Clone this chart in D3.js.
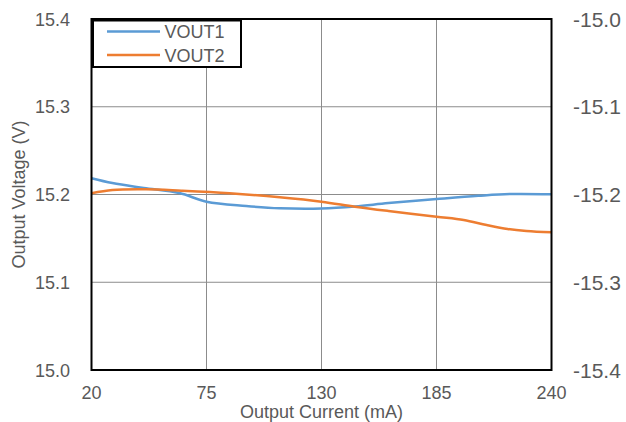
<html>
<head>
<meta charset="utf-8">
<style>
  body { margin: 0; background: #fff; }
  text { font-family: "Liberation Sans", Arial, sans-serif; fill: #595959; }
</style>
</head>
<body>
<script src="https://cdn.jsdelivr.net/npm/d3@7"></script>
<script>
// output current (mA) and voltages
var current1 = [20, 30, 45, 62, 75, 94, 110, 130, 146, 162, 185, 205, 220, 240];
var vout1    = [15.2185, 15.213, 15.2075, 15.2017, 15.1918, 15.1869, 15.1843, 15.184, 15.1863, 15.1902, 15.1948, 15.1985, 15.2005, 15.2002];
var current2 = [20, 30, 46, 63, 86, 110, 130, 146, 162, 185, 198, 209, 219, 228, 240];
var vout2    = [-15.1986, -15.1949, -15.1941, -15.1957, -15.1986, -15.2032, -15.2082, -15.2139, -15.2188, -15.2253, -15.229, -15.2348, -15.2393, -15.2416, -15.2431];
var xTicks  = [20, 75, 130, 185, 240];
var yTicks  = [15.0, 15.1, 15.2, 15.3, 15.4];
var y2Ticks = [-15.4, -15.3, -15.2, -15.1, -15.0];
var seriesNames = ["VOUT1", "VOUT2"];
var colors = ["#5B9BD5", "#ED7D31"];

var W = 626, H = 422;
var pLeft = 91.5, pRight = 551.5, pTop = 19, pBottom = 370;

var svg = d3.select("body").append("svg").attr("width", W).attr("height", H);

var x = d3.scaleLinear().domain([20, 240]).range([pLeft, pRight]);
var y = d3.scaleLinear().domain([15.0, 15.4]).range([pBottom, pTop]);
var y2 = d3.scaleLinear().domain([-15.4, -15.0]).range([pBottom, pTop]);

// gridlines
svg.append("g").selectAll("line").data(xTicks.slice(1, -1)).enter().append("line")
  .attr("x1", function(d) { return x(d); }).attr("x2", function(d) { return x(d); })
  .attr("y1", pTop).attr("y2", pBottom)
  .attr("stroke", "#8c8c8c").attr("stroke-width", 1);
svg.append("g").selectAll("line").data(yTicks.slice(1, -1)).enter().append("line")
  .attr("x1", pLeft).attr("x2", pRight)
  .attr("y1", function(d) { return y(d); }).attr("y2", function(d) { return y(d); })
  .attr("stroke", "#8c8c8c").attr("stroke-width", 1);

// lines (smoothed like the original)
var line1 = d3.line().x(function(d, i) { return x(current1[i]); }).y(function(d) { return y(d); }).curve(d3.curveCatmullRom.alpha(0.5));
var line2 = d3.line().x(function(d, i) { return x(current2[i]); }).y(function(d) { return y2(d); }).curve(d3.curveCatmullRom.alpha(0.5));
svg.append("path").attr("d", line1(vout1)).attr("fill", "none").attr("stroke", colors[0]).attr("stroke-width", 2.5);
svg.append("path").attr("d", line2(vout2)).attr("fill", "none").attr("stroke", colors[1]).attr("stroke-width", 2.5);

// plot border
svg.append("rect").attr("x", pLeft).attr("y", pTop).attr("width", pRight - pLeft).attr("height", pBottom - pTop)
  .attr("fill", "none").attr("stroke", "#000").attr("stroke-width", 2);

// tick labels
svg.append("g").selectAll("text").data(yTicks).enter().append("text")
  .attr("x", 70).attr("y", function(d) { return y(d) + 6.5; })
  .attr("text-anchor", "end").style("font-size", "18px")
  .text(function(d) { return d3.format(".1f")(d); });
svg.append("g").selectAll("text").data(y2Ticks).enter().append("text")
  .attr("x", 573).attr("y", function(d) { return y2(d) + 7.5; })
  .style("font-size", "21px")
  .text(function(d) { return d3.format(".1f")(d).replace("\u2212", "-"); });
svg.append("g").selectAll("text").data(xTicks).enter().append("text")
  .attr("x", function(d) { return x(d); }).attr("y", 399)
  .attr("text-anchor", "middle").style("font-size", "18px")
  .text(function(d) { return d; });

// axis titles
svg.append("text").attr("x", (pLeft + pRight) / 2).attr("y", 418)
  .attr("text-anchor", "middle").style("font-size", "18px").text("Output Current (mA)");
svg.append("text").attr("transform", "translate(24.5," + (pTop + pBottom) / 2 + ") rotate(-90)")
  .attr("text-anchor", "middle").style("font-size", "18px").text("Output Voltage (V)");

// legend
var lg = svg.append("g");
lg.append("rect").attr("x", pLeft + 1.5).attr("y", pTop + 1.5).attr("width", 148).attr("height", 46.5)
  .attr("fill", "#fff").attr("stroke", "#000").attr("stroke-width", 2);
seriesNames.forEach(function(n, i) {
  var ly = 31.5 + i * 23.5;
  lg.append("line").attr("x1", 107).attr("x2", 160).attr("y1", ly).attr("y2", ly)
    .attr("stroke", colors[i]).attr("stroke-width", 2.5);
  lg.append("text").attr("x", 164.5).attr("y", ly + 6.5).style("font-size", "18px").text(n);
});
</script>
</body>
</html>
